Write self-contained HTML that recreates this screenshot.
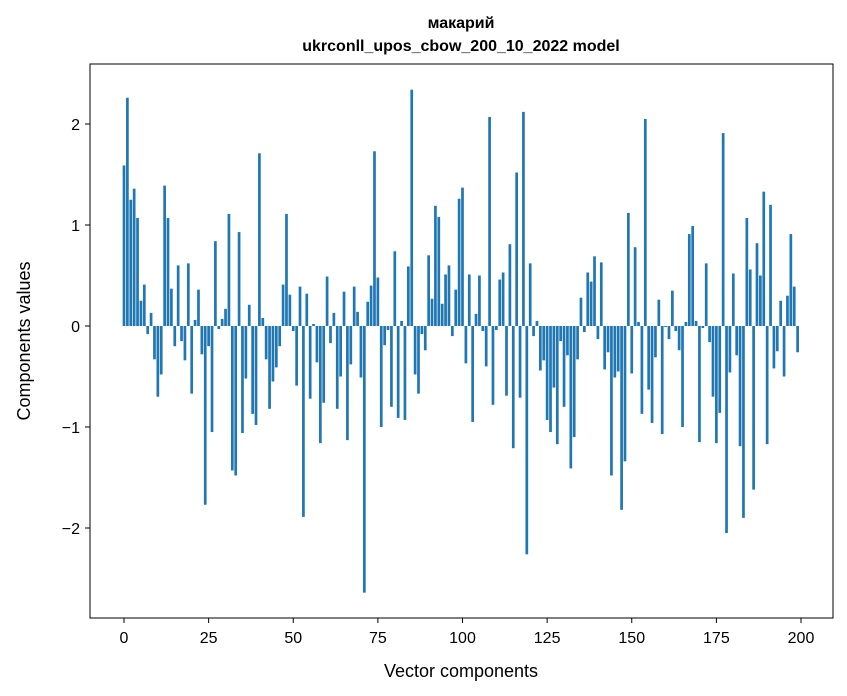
<!DOCTYPE html>
<html><head><meta charset="utf-8"><style>
body{margin:0;background:#fff}
svg{display:block;font-family:"Liberation Sans","DejaVu Sans",sans-serif}
</style></head><body>
<svg id="chart" width="847" height="696">
<text x="461" y="28" text-anchor="middle" font-size="16" font-weight="bold">макарий</text>
<text x="461" y="51" text-anchor="middle" font-size="16" font-weight="bold">ukrconll_upos_cbow_200_10_2022 model</text>
<g id="bars"></g>
<g id="xticks"></g>
<g id="yticks"></g>
<rect x="90" y="64" width="743" height="554" fill="none" stroke="#000" stroke-width="1"/>
<text x="461" y="677" text-anchor="middle" font-size="18">Vector components</text>
<text transform="translate(30,341) rotate(-90)" text-anchor="middle" font-size="18">Components values</text>
</svg>
<script>
const values = [1.59,2.26,1.25,1.36,1.07,0.25,0.41,-0.08,0.13,-0.33,
-0.70,-0.48,1.39,1.07,0.37,-0.20,0.60,-0.15,-0.34,0.62,
-0.67,0.06,0.36,-0.28,-1.77,-0.20,-1.05,0.84,-0.03,0.07,
0.17,1.11,-1.43,-1.48,0.93,-1.06,-0.52,0.21,-0.87,-0.98,
1.71,0.08,-0.33,-0.82,-0.55,-0.41,-0.20,0.41,1.11,0.31,
-0.05,-0.59,0.39,-1.89,0.32,-0.72,0.02,-0.36,-1.16,-0.76,
0.49,-0.17,0.13,-0.82,-0.50,0.34,-1.13,-0.38,0.39,0.14,
-0.51,-2.64,0.24,0.40,1.73,0.48,-1.00,-0.19,-0.04,-0.80,
0.74,-0.91,0.05,-0.93,0.59,2.34,-0.48,-0.67,-0.08,-0.24,
0.70,0.27,1.19,1.08,0.22,0.51,0.60,-0.10,0.36,1.26,
1.37,-0.37,0.51,-0.95,0.12,0.50,-0.05,-0.40,2.07,-0.78,
-0.04,0.46,0.53,-0.69,0.81,-1.21,1.52,-0.71,2.12,-2.26,
0.62,-0.10,0.05,-0.44,-0.34,-0.93,-1.05,-0.61,-1.17,-0.15,
-0.80,-0.29,-1.41,-1.10,-0.33,0.28,-0.06,0.53,0.44,0.69,
-0.13,0.63,-0.43,-0.26,-1.48,-0.51,-0.45,-1.82,-1.34,1.12,
-0.47,0.78,0.04,-0.87,2.05,-0.63,-0.96,-0.31,0.26,-1.07,
-0.01,-0.13,0.35,-0.05,-0.24,-1.00,0.04,0.91,0.99,0.05,
-1.15,-0.02,0.62,-0.16,-0.70,-1.16,-0.86,1.91,-2.05,-0.46,
0.52,-0.29,-1.19,-1.90,1.07,0.56,-1.62,0.82,0.50,1.33,
-1.17,1.20,-0.42,-0.25,0.25,-0.50,0.30,0.91,0.39,-0.26];
const xTicks = [0,25,50,75,100,125,150,175,200];
const yTicks = [-2,-1,0,1,2];
const xs = v => 124 + v*3.385;
const ys = v => 326 - v*101;
const NS="http://www.w3.org/2000/svg";
const bars=document.getElementById('bars');
values.forEach((v,i)=>{
  const r=document.createElementNS(NS,'rect');
  
  
  const x0=xs(i-0.4), x1=xs(i+0.4);
  r.setAttribute('x',x0);r.setAttribute('width',x1-x0);
  r.setAttribute('y',Math.min(ys(v),ys(0)));r.setAttribute('height',Math.abs(ys(v)-ys(0)));
  r.setAttribute('fill','#1f77b4');
  bars.appendChild(r);
});
const xg=document.getElementById('xticks');
xTicks.forEach(t=>{
  const l=document.createElementNS(NS,'line');
  
  
  l.setAttribute('x1',xs(t));l.setAttribute('x2',xs(t));l.setAttribute('y1',618);l.setAttribute('y2',623);l.setAttribute('stroke','#000');
  xg.appendChild(l);
  const tx=document.createElementNS(NS,'text');
  
  
  tx.setAttribute('x',xs(t));tx.setAttribute('y',643);tx.setAttribute('text-anchor','middle');tx.setAttribute('font-size','16');
  tx.textContent=t;xg.appendChild(tx);
});
const yg=document.getElementById('yticks');
yTicks.forEach(t=>{
  const l=document.createElementNS(NS,'line');
  
  
  l.setAttribute('x1',85);l.setAttribute('x2',90);l.setAttribute('y1',ys(t));l.setAttribute('y2',ys(t));l.setAttribute('stroke','#000');
  yg.appendChild(l);
  const tx=document.createElementNS(NS,'text');
  
  
  tx.setAttribute('x',80);tx.setAttribute('y',ys(t)+6);tx.setAttribute('text-anchor','end');tx.setAttribute('font-size','16');
  tx.textContent=t<0?'\u2212'+(-t):t;yg.appendChild(tx);
});
</script>
</body></html>
